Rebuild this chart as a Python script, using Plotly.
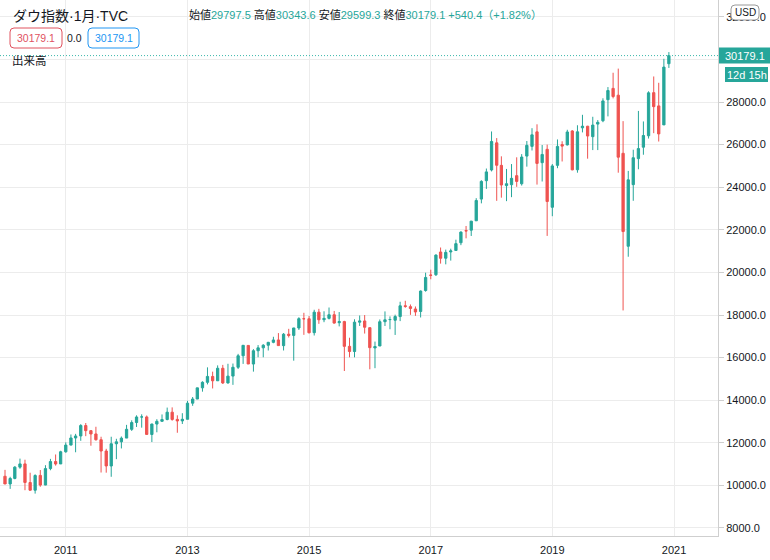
import plotly.graph_objects as go

# ---------------- data (Dow Jones, monthly, Jan 2010 - Dec 2020) ----------------
years = list(range(2010, 2021))
months = [f"{y}-{m:02d}-01" for y in years for m in range(1, 13)]

open_ = [
    10428, 10068, 10326, 10857, 11009, 10136, 9773, 10468, 10016, 10789, 11120, 11007,
    11577, 11892, 12226, 12321, 12810, 12570, 12415, 12144, 11613, 10912, 11955, 12046,
    12221, 12632, 12952, 13213, 13214, 12391, 12880, 13009, 13092, 13437, 13099, 13027,
    13104, 13861, 14054, 14580, 14840, 15115, 14911, 15499, 14810, 15132, 15545, 16087,
    16572, 15698, 16321, 16458, 16580, 16716, 16828, 16561, 17099, 17041, 17390, 17827,
    17823, 17170, 18134, 17778, 17842, 18012, 17639, 17690, 16529, 16285, 17663, 17720,
    17405, 16454, 16545, 17686, 17783, 17754, 17925, 18434, 18393, 18283, 18167, 19150,
    19873, 19890, 20957, 20665, 20962, 21030, 21392, 21962, 21982, 22423, 23442, 24305,
    24809, 26083, 25025, 24076, 24117, 24542, 24161, 25461, 25917, 26598, 25151, 25779,
    23058, 25025, 25999, 25986, 26640, 24820, 26787, 26863, 26373, 26963, 27120, 28109,
    28639, 28320, 25591, 21227, 24120, 25342, 25879, 26414, 28439, 27817, 26925, 29797.5,
]
high_ = [
    10729, 10404, 10903, 11258, 11206, 10595, 10520, 10720, 10948, 11245, 11452, 11625,
    12021, 12391, 12419, 12876, 12929, 12588, 12753, 12284, 11717, 12284, 12188, 12297,
    12842, 13055, 13290, 13338, 13280, 12899, 13108, 13331, 13653, 13662, 13290, 13390,
    13970, 14150, 14586, 14888, 15542, 15340, 15634, 15658, 15710, 15721, 16175, 16588,
    16588, 16398, 16588, 16632, 16736, 16978, 17151, 17153, 17350, 17395, 17895, 18103,
    17951, 18245, 18289, 18175, 18352, 18190, 18138, 17727, 16933, 17799, 17977, 17997,
    17405, 16752, 17790, 18168, 17934, 18016, 18622, 18668, 18494, 18400, 19152, 19987,
    20126, 20851, 21169, 21070, 21113, 21535, 21930, 22179, 22420, 23485, 24327, 24876,
    26617, 26306, 25450, 24858, 25087, 25403, 25552, 26168, 26770, 26952, 25980, 26000,
    25087, 26242, 26156, 26696, 26680, 26908, 27399, 26881, 27306, 27152, 28175, 28701,
    29374, 29568, 27102, 24765, 25759, 27581, 27087, 28503, 29199, 28902, 30030, 30343.6,
]
low_ = [
    10068, 9836, 10286, 10780, 9774, 9757, 9614, 9936, 10010, 10711, 10929, 11007,
    11537, 11884, 11555, 12093, 12311, 11862, 12103, 10604, 10597, 10404, 11231, 11735,
    12221, 12557, 12743, 12710, 12401, 12035, 12492, 12987, 13055, 13036, 12471, 12883,
    13104, 13735, 14053, 14400, 14741, 14551, 14910, 14760, 14777, 14720, 15464, 15703,
    15699, 15341, 16016, 16015, 16333, 16674, 16562, 16334, 16944, 15855, 17298, 17068,
    17136, 17037, 17585, 17662, 17791, 17593, 17465, 15370, 16013, 16013, 17485, 17129,
    15450, 15503, 16545, 17484, 17331, 17063, 17713, 18338, 18007, 17959, 17884, 19094,
    19677, 19831, 20412, 20379, 20554, 21030, 21279, 21600, 21710, 22416, 23242, 23921,
    24741, 23360, 23509, 23345, 23532, 24017, 24077, 24965, 25724, 24123, 24268, 21713,
    22638, 24892, 25208, 25960, 24795, 24681, 26573, 25339, 25743, 25743, 27052, 27325,
    28170, 24681, 18214, 20735, 23362, 24843, 25524, 26284, 26537, 26144, 26925, 29599.3,
]
close_ = [
    10067, 10325, 10857, 11009, 10137, 9774, 10466, 10015, 10788, 11118, 11006, 11578,
    11892, 12226, 12320, 12811, 12570, 12414, 12143, 11614, 10913, 11955, 12046, 12218,
    12633, 12952, 13212, 13214, 12393, 12880, 13009, 13091, 13437, 13096, 13026, 13104,
    13861, 14054, 14579, 14840, 15116, 14910, 15500, 14810, 15130, 15546, 16086, 16577,
    15699, 16322, 16458, 16581, 16717, 16827, 16563, 17098, 17043, 17391, 17828, 17823,
    17165, 18133, 17776, 17841, 18011, 17620, 17690, 16528, 16285, 17664, 17720, 17425,
    16466, 16517, 17685, 17774, 17787, 17930, 18432, 18401, 18308, 18142, 19124, 19763,
    19864, 20812, 20663, 20941, 21009, 21350, 21891, 21948, 22405, 23377, 24272, 24719,
    26149, 25029, 24103, 24163, 24416, 24271, 25415, 25965, 26458, 25116, 25538, 23327,
    24999, 25916, 25929, 26593, 24815, 26600, 26864, 26403, 26917, 27046, 28051, 28538,
    28256, 25409, 21917, 24346, 25383, 25813, 26428, 28430, 27782, 26502, 29638.7, 30179.1,
]

year_ticks = ["2011", "2013", "2015", "2017", "2019", "2021"]
price_ticks = [8000, 10000, 12000, 14000, 16000, 18000, 20000, 22000, 24000,
               26000, 28000, 30000, 32000]
title_text = "ダウ指数·1月·TVC"
volume_label = "出来高"
countdown = "12d 15h"
currency = "USD"

# ---------------- styling ----------------
UP = "#26a69a"
DOWN = "#ef5350"
GRID = "#ececec"
AXIS = "#cfcfcf"
TXT = "#131722"
FONT = "Liberation Sans, Noto Sans CJK JP, sans-serif"

W, H = 770, 560
PW, PH = 718, 536  # plot area size in px (left=0, top=0)


def px(x):
    return x / PW


def py(y):
    return 1 - y / PH


def rrect(x0, y0, x1, y1, r):
    """rounded rectangle path in paper coords from pixel coords"""
    pts = [
        f"M {px(x0 + r)},{py(y0)}",
        f"L {px(x1 - r)},{py(y0)}",
        f"Q {px(x1)},{py(y0)} {px(x1)},{py(y0 + r)}",
        f"L {px(x1)},{py(y1 - r)}",
        f"Q {px(x1)},{py(y1)} {px(x1 - r)},{py(y1)}",
        f"L {px(x0 + r)},{py(y1)}",
        f"Q {px(x0)},{py(y1)} {px(x0)},{py(y1 - r)}",
        f"L {px(x0)},{py(y0 + r)}",
        f"Q {px(x0)},{py(y0)} {px(x0 + r)},{py(y0)}",
        "Z",
    ]
    return " ".join(pts)


fig = go.Figure(
    go.Candlestick(
        x=months, open=open_, high=high_, low=low_, close=close_,
        increasing=dict(line=dict(color=UP, width=1), fillcolor=UP),
        decreasing=dict(line=dict(color=DOWN, width=1), fillcolor=DOWN),
        whiskerwidth=0, showlegend=False, hoverinfo="skip",
    )
)

last_o, last_h, last_l, last_c = open_[-1], high_[-1], low_[-1], close_[-1]
chg = last_c - close_[-2]
pct = chg / close_[-2] * 100


def lv(label, val):
    return (f"<span style='color:{TXT}'>{label}</span>"
            f"<span style='color:{UP}'>{val}</span>")


info = (" ".join([lv("始値", f"{last_o:.1f}"), lv("高値", f"{last_h:.1f}"),
                  lv("安値", f"{last_l:.1f}"), lv("終値", f"{last_c:.1f}")])
        + f" <span style='color:{UP}'>+{chg:.1f}（+{pct:.2f}%）</span>")

annotations = [
    dict(text=title_text, x=px(11), y=py(16), xref="paper", yref="paper",
         xanchor="left", yanchor="middle", showarrow=False,
         font=dict(size=14, color=TXT, family=FONT)),
    dict(text=info, x=px(187), y=py(14), xref="paper", yref="paper",
         xanchor="left", yanchor="middle", showarrow=False,
         font=dict(size=11, color=TXT, family=FONT)),
    dict(text=f"{last_c:.1f}", x=px(36), y=py(38), xref="paper", yref="paper",
         xanchor="center", yanchor="middle", showarrow=False,
         font=dict(size=10.5, color="#e0525f", family=FONT)),
    dict(text="0.0", x=px(74), y=py(38), xref="paper", yref="paper",
         xanchor="center", yanchor="middle", showarrow=False,
         font=dict(size=10.5, color=TXT, family=FONT)),
    dict(text=f"{last_c:.1f}", x=px(114), y=py(38), xref="paper", yref="paper",
         xanchor="center", yanchor="middle", showarrow=False,
         font=dict(size=10.5, color="#2196f3", family=FONT)),
    dict(text=volume_label, x=px(10), y=py(61), xref="paper", yref="paper",
         xanchor="left", yanchor="middle", showarrow=False,
         font=dict(size=11.5, color=TXT, family=FONT)),
    dict(text=f"{last_c:.1f}", x=px(745), y=last_c, xref="paper", yref="y",
         xanchor="center", yanchor="middle", showarrow=False,
         font=dict(size=11, color="white", family=FONT)),
    dict(text=countdown, x=px(746.5), y=py(74.5), xref="paper", yref="paper",
         xanchor="center", yanchor="middle", showarrow=False,
         font=dict(size=11, color="white", family=FONT)),
    dict(text=currency, x=px(745), y=py(12.5), xref="paper", yref="paper",
         xanchor="center", yanchor="middle", showarrow=False,
         font=dict(size=10, color=TXT, family=FONT)),
]

box_half = 8 * 1000 / 21.3  # half height of price label in price units
shapes = [
    dict(type="line", xref="paper", yref="y", x0=0, x1=1, y0=last_c, y1=last_c,
         line=dict(color="#3cb8ab", width=1, dash="1px,2px"), layer="above"),
    dict(type="path", xref="paper", yref="paper", path=rrect(10, 28, 62, 48, 4),
         line=dict(color="#e0525f", width=1), fillcolor="white"),
    dict(type="path", xref="paper", yref="paper", path=rrect(88, 28, 139, 48, 4),
         line=dict(color="#2196f3", width=1), fillcolor="white"),
    dict(type="rect", xref="paper", yref="y", x0=px(719), x1=px(770),
         y0=last_c - box_half, y1=last_c + box_half,
         line=dict(width=0), fillcolor=UP, layer="above"),
    dict(type="rect", xref="paper", yref="paper", x0=px(725), x1=px(768),
         y0=py(82), y1=py(67), line=dict(width=0), fillcolor=UP, layer="above"),
    dict(type="path", xref="paper", yref="paper", path=rrect(731, 5, 759, 20, 4),
         line=dict(color="#9a9a9a", width=1), fillcolor="white", layer="above"),
]

fig.update_layout(
    width=W, height=H,
    margin=dict(l=0, r=W - PW, t=0, b=H - PH),
    paper_bgcolor="white", plot_bgcolor="white",
    font=dict(family=FONT, size=11, color=TXT),
    showlegend=False,
    boxgap=0.3,
    annotations=annotations,
    shapes=shapes,
    xaxis=dict(
        type="date", range=["2009-12-02", "2021-09-22"],
        rangeslider=dict(visible=False),
        tickvals=[f"{y}-01-01" for y in year_ticks], ticktext=year_ticks,
        showgrid=True, gridcolor=GRID, gridwidth=1,
        showline=True, linecolor=AXIS, linewidth=1,
        ticks="", tickfont=dict(size=11, color=TXT), zeroline=False,
        ticklabelstandoff=4,
    ),
    yaxis=dict(
        side="right", range=[7624, 32789],
        tickvals=price_ticks, tickformat=".1f",
        showgrid=True, gridcolor=GRID, gridwidth=1,
        showline=True, linecolor=AXIS, linewidth=1,
        ticks="outside", ticklen=5, tickcolor=AXIS,
        tickfont=dict(size=11, color=TXT), zeroline=False,
    ),
)

fig.write_html(
    "out.html",
    config={"displayModeBar": False},
    post_script="document.body.style.margin='0';document.body.style.overflow='hidden';",
)
